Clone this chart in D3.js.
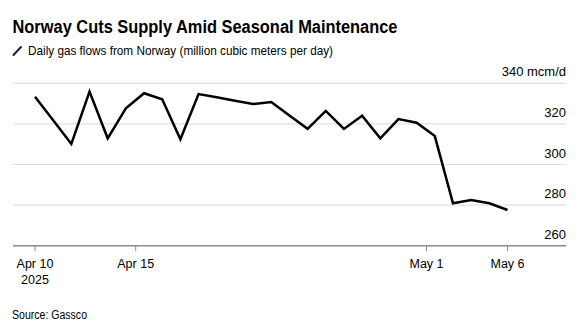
<!DOCTYPE html>
<html>
<head>
<meta charset="utf-8">
<script src="https://cdn.jsdelivr.net/npm/d3@7"></script>
<style>
  body { margin: 0; background: #fff; }
  svg { display: block; font-family: "Liberation Sans", Arial, sans-serif; }
</style>
</head>
<body>
<svg id="chart" width="579" height="329"></svg>
<script>
// daily flows, Apr 10 .. May 6 2025
var dates = ["2025-04-10","2025-04-11","2025-04-12","2025-04-13","2025-04-14","2025-04-15","2025-04-16",
  "2025-04-17","2025-04-18","2025-04-19","2025-04-20","2025-04-21","2025-04-22","2025-04-23","2025-04-24",
  "2025-04-25","2025-04-26","2025-04-27","2025-04-28","2025-04-29","2025-04-30","2025-05-01","2025-05-02",
  "2025-05-03","2025-05-04","2025-05-05","2025-05-06"];
var flows = [333.4, 321.8, 310.1, 335.9, 312.9, 327.7, 335.1, 332.1, 312.4, 334.7, 333.1, 331.4, 329.8, 330.8,
  324.1, 317.6, 326.4, 317.5, 324.0, 312.9, 322.4, 320.6, 314.0, 280.9, 282.5, 280.9, 277.6];

var yTicks = [260, 280, 300, 320, 340];
var xTickDates = ["2025-04-10T00:00","2025-04-15T13:00","2025-05-01T13:00","2025-05-06T00:00"];
var xTickLabels = [["Apr 10","2025"],["Apr 15"],["May 1"],["May 6"]];

var titleText = "Norway Cuts Supply Amid Seasonal Maintenance";
var subtitleText = "Daily gas flows from Norway (million cubic meters per day)";
var sourceText = "Source: Gassco";

var svg = d3.select("#chart");
var margin = {left: 13, right: 566, top: 83.3, bottom: 245.7};

var parseDay = d3.utcParse("%Y-%m-%d");
var parseTick = d3.utcParse("%Y-%m-%dT%H:%M");
var data = dates.map(function(d, i){ return {date: parseDay(d), value: flows[i]}; });

var x = d3.scaleUtc()
  .domain([parseDay(dates[0]), parseDay(dates[dates.length - 1])])
  .range([35, 507.5]);
var y = d3.scaleLinear().domain([260, 340]).range([margin.bottom, margin.top]);

/***********************************************************************************************************/
// titles (the source font is narrower than Liberation, squeeze to the measured widths)

svg.append("text")
  .attr("x", 12.5).attr("y", 33.3)
  .attr("font-size", 18).attr("font-weight", "bold").attr("fill", "#000")
  .attr("textLength", 385).attr("lengthAdjust", "spacingAndGlyphs")
  .text(titleText);

svg.append("line")
  .attr("x1", 13.5).attr("y1", 55).attr("x2", 21).attr("y2", 47)
  .attr("stroke", "#222").attr("stroke-width", 2).attr("stroke-linecap", "round");

svg.append("text")
  .attr("x", 28).attr("y", 55)
  .attr("font-size", 13).attr("fill", "#000")
  .attr("textLength", 305).attr("lengthAdjust", "spacingAndGlyphs")
  .text(subtitleText);

/***********************************************************************************************************/
// grid and y labels

svg.append("g").selectAll("line")
  .data(yTicks.filter(function(d){ return d !== 260; }))
  .join("line")
  .attr("x1", margin.left).attr("x2", margin.right)
  .attr("y1", function(d){ return y(d); }).attr("y2", function(d){ return y(d); })
  .attr("stroke", "#e0e0e0").attr("stroke-width", 1.2);

svg.append("g").selectAll("text")
  .data(yTicks)
  .join("text")
  .attr("x", margin.right).attr("y", function(d){ return y(d) - 7; })
  .attr("text-anchor", "end").attr("font-size", 13).attr("fill", "#000")
  .text(function(d){ return d === 340 ? d + " mcm/d" : d; });

/***********************************************************************************************************/
// x axis

svg.append("line")
  .attr("x1", margin.left).attr("x2", margin.right)
  .attr("y1", margin.bottom).attr("y2", margin.bottom)
  .attr("stroke", "#8c8c8c").attr("stroke-width", 1.5);

var xt = svg.append("g").selectAll("g")
  .data(xTickDates)
  .join("g")
  .attr("transform", function(d){ return "translate(" + x(parseTick(d)) + ",0)"; });

xt.append("line")
  .attr("y1", margin.bottom).attr("y2", margin.bottom + 5.5)
  .attr("stroke", "#8c8c8c").attr("stroke-width", 1);

xt.each(function(d, i){
  var g = d3.select(this);
  xTickLabels[i].forEach(function(t, j){
    g.append("text")
      .attr("y", 267.8 + j * 16.3)
      .attr("text-anchor", "middle").attr("font-size", 12.5).attr("fill", "#000")
      .text(t);
  });
});

/***********************************************************************************************************/
// line

svg.append("path")
  .datum(data)
  .attr("fill", "none").attr("stroke", "#000").attr("stroke-width", 2.5)
  .attr("stroke-linejoin", "miter")
  .attr("d", d3.line().x(function(d){ return x(d.date); }).y(function(d){ return y(d.value); }));

svg.append("text")
  .attr("x", 12).attr("y", 319)
  .attr("font-size", 12.5).attr("fill", "#000")
  .attr("textLength", 75).attr("lengthAdjust", "spacingAndGlyphs")
  .text(sourceText);
</script>
</body>
</html>
